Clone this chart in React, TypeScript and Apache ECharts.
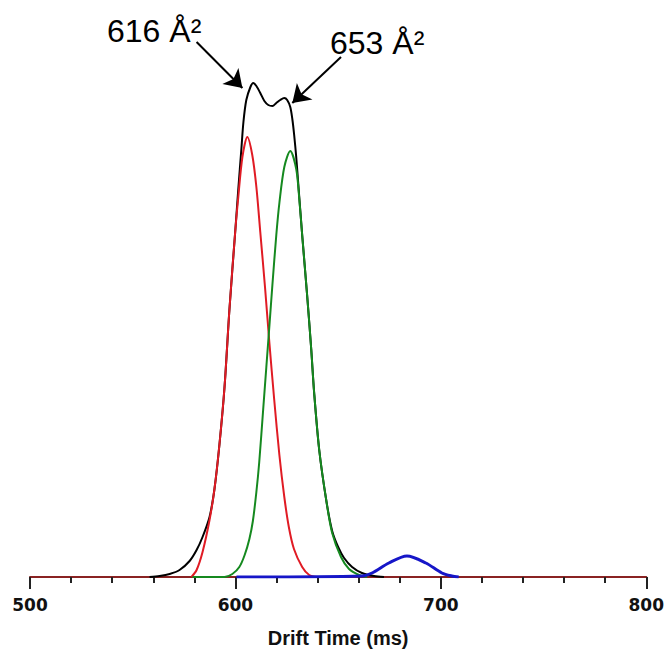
import React, { useEffect, useRef } from "react";
import * as echarts from "echarts";

// Drift time (ms) vs intensity (arbitrary units)
const totalCurve: [number, number][] = [
  [558.2, 0], [563.1, 1], [568.0, 3], [572.8, 7], [577.7, 16], [581.1, 27], [584.0, 40],
  [587.4, 60], [589.8, 88], [592.2, 132], [594.7, 190], [597.1, 268], [600.0, 348],
  [601.4, 388], [602.9, 428], [603.9, 455], [605.3, 477], [607.3, 490], [608.7, 494],
  [610.2, 491], [612.1, 484], [614.1, 476], [616.0, 472], [618.0, 471], [619.9, 474],
  [621.8, 477], [623.8, 479], [625.2, 477], [626.7, 470], [627.7, 458], [628.6, 442],
  [629.6, 420], [630.6, 393], [632.5, 342], [634.9, 282], [636.9, 228], [638.3, 185],
  [640.8, 127], [644.2, 77], [647.1, 46], [650.0, 30], [652.9, 19], [656.8, 10], [661.6, 4],
  [667.5, 1], [672.3, 0],
];

const redCurve: [number, number][] = [
  [578.6, 0], [581.1, 7], [584.0, 25], [587.4, 57], [589.8, 88], [592.2, 132],
  [594.7, 190], [597.1, 268], [600.0, 348], [601.4, 380], [603.4, 420], [605.8, 440],
  [608.2, 422], [610.2, 390], [612.1, 345], [614.4, 290], [616.5, 235], [618.9, 177],
  [621.4, 122], [623.8, 80], [626.0, 50], [628.5, 28], [632.5, 10], [635.9, 2], [639.8, 0],
];

const greenCurve: [number, number][] = [
  [579.1, 0], [594.7, 0], [598.5, 3], [601.9, 10], [604.5, 22], [606.8, 38], [608.5, 56],
  [610.2, 85], [611.6, 115], [613.6, 170], [616.5, 250], [618.0, 292], [619.9, 342],
  [621.4, 374], [623.8, 410], [626.7, 426], [629.6, 408], [631.1, 378], [632.5, 342],
  [634.9, 282], [636.9, 228], [638.3, 185], [640.8, 127], [644.2, 77], [647.1, 44],
  [651.4, 20], [655.3, 8], [660.2, 2], [664.1, 0],
];

const blueCurve: [number, number][] = [
  [600.5, 0], [661.6, 1], [666.5, 4], [674.7, 14], [683.5, 21], [692.7, 14],
  [700.5, 4], [705.3, 1], [708.7, 0],
];

const xTicks = { min: 500, max: 800, interval: 100 };
const yRange = { min: 0, max: 557 };

const annotations = [
  { text: "616 Å²", x: 107, y: 31 },
  { text: "653 Å²", x: 330, y: 43 },
];

const arrows: { from: [number, number]; to: [number, number] }[] = [
  { from: [581.1, 535], to: [603.4, 489] },
  { from: [651.4, 520], to: [627.7, 474] },
];

export default function App() {
  const ref = useRef<HTMLDivElement>(null);

  useEffect(() => {
    if (!ref.current) return;
    const chart = echarts.init(ref.current, null, { renderer: "svg" });
    const lineSeries = (name: string, data: [number, number][], color: string, width: number, extra: any = {}) => ({
      name,
      type: "line",
      data,
      smooth: 0.3,
      showSymbol: false,
      symbol: "none",
      lineStyle: { color, width },
      itemStyle: { color },
      ...extra,
    });
    chart.setOption({
      animation: false,
      backgroundColor: "#ffffff",
      grid: { left: 30, right: 18, top: 20, bottom: 83 },
      xAxis: {
        type: "value",
        min: xTicks.min,
        max: xTicks.max,
        interval: xTicks.interval,
        name: "Drift Time (ms)",
        nameLocation: "middle",
        nameGap: 51,
        nameTextStyle: {
          fontFamily: "Liberation Sans, Arial, sans-serif",
          fontWeight: "bold",
          fontSize: 20,
          color: "#111",
        },
        axisLine: { show: true, lineStyle: { color: "#8a2323", width: 2 } },
        axisTick: { show: true, inside: false, length: 12, lineStyle: { color: "#222", width: 2 } },
        minorTick: { show: true, splitNumber: 5, length: 6, lineStyle: { color: "#222", width: 2 } },
        splitLine: { show: false },
        minorSplitLine: { show: false },
        axisLabel: {
          margin: 19,
          fontFamily: "DejaVu Sans, sans-serif",
          fontWeight: "bold",
          fontSize: 17,
          color: "#111",
        },
      },
      yAxis: {
        type: "value",
        min: yRange.min,
        max: yRange.max,
        show: false,
        splitLine: { show: false },
      },
      series: [
        lineSeries("total", totalCurve, "#000000", 2, {
          markLine: {
            silent: true,
            symbol: ["none", "arrow"],
            symbolSize: 17,
            label: { show: false },
            lineStyle: { color: "#000", width: 2, type: "solid" },
            data: arrows.map((a) => [{ coord: a.from }, { coord: a.to }]),
          },
        }),
        lineSeries("peak1", redCurve, "#e01b24", 2),
        lineSeries("peak2", greenCurve, "#15891f", 2),
        lineSeries("peak3", blueCurve, "#1616c8", 3),
      ],
      graphic: annotations.map((a) => ({
        type: "text",
        left: a.x,
        top: a.y - 16,
        style: {
          text: a.text,
          fontFamily: "Liberation Sans, Arial, sans-serif",
          fontSize: 32,
          fill: "#000",
        },
      })),
    });
    return () => chart.dispose();
  }, []);

  return (
    <div
      ref={ref}
      style={{ position: "fixed", left: 0, top: 0, width: 667, height: 660, background: "#fff" }}
    />
  );
}
